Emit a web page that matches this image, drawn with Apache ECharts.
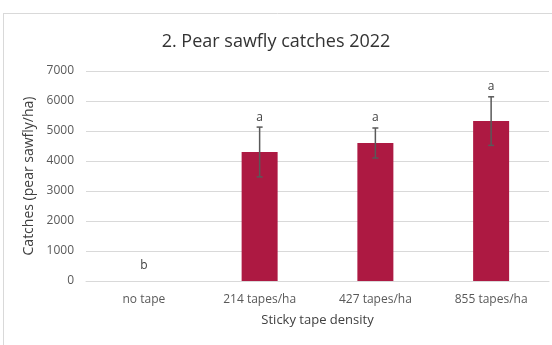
<!DOCTYPE html>
<html lang="en">
	<head>
		<meta charset="utf-8">
		<title>Pear sawfly catches 2022</title>
		<style>
			html, body { margin: 0; padding: 0; background: #fff; }
			#chart { width: 552px; height: 345px; }
		</style>
	</head>
	<body>
		<div id="chart"></div>
		<script src="https://cdn.jsdelivr.net/npm/echarts@6/dist/echarts.min.js"></script>
		<script type="text/javascript">
			var categories = ['no tape', '214 tapes/ha', '427 tapes/ha', '855 tapes/ha'];
			var catches = [0, 4300, 4600, 5330];
			var errors = [0, 830, 500, 810];
			var letters = ['b', 'a', 'a', 'a'];
			var letterY = [500, null, null, null]; // where the letter sits when there is no error bar
			var yTicks = [0, 1000, 2000, 3000, 4000, 5000, 6000, 7000];

			var myChart = echarts.init(document.getElementById('chart'));

			var errData = [];
			for (var i = 0; i < categories.length; i++) {
				errData.push([i, catches[i] - errors[i], catches[i] + errors[i], letterY[i]]);
			}

			var option = {
				backgroundColor: '#fff',
				animation: false,
				textStyle: { fontFamily: 'Open Sans, Noto Sans, sans-serif' },
				title: {
					text: '2. Pear sawfly catches 2022',
					left: 'center',
					top: 28,
					textStyle: { fontSize: 18, fontWeight: 'normal', color: '#333' }
				},
				graphic: [
					{ type: 'line', shape: { x1: 3.5, y1: 13, x2: 3.5, y2: 345 }, style: { stroke: '#d9d9d9', lineWidth: 1 } },
					{ type: 'line', shape: { x1: 3, y1: 13.5, x2: 552, y2: 13.5 }, style: { stroke: '#d9d9d9', lineWidth: 1 } }
				],
				grid: { left: 86, right: 3, top: 71, bottom: 64 },
				xAxis: {
					type: 'category',
					data: categories,
					name: 'Sticky tape density',
					nameLocation: 'middle',
					nameGap: 33,
					nameTextStyle: { fontSize: 13, color: '#404040' },
					axisLine: { lineStyle: { color: '#d9d9d9' } },
					axisTick: { show: false },
					axisLabel: { fontSize: 12, color: '#595959', margin: 13 }
				},
				yAxis: {
					type: 'value',
					min: yTicks[0],
					max: yTicks[yTicks.length - 1],
					interval: 1000,
					name: 'Catches (pear sawfly/ha)',
					nameLocation: 'middle',
					nameGap: 47,
					nameTextStyle: { fontSize: 14, color: '#404040' },
					axisLine: { show: false },
					axisTick: { show: false },
					axisLabel: {
						fontSize: 12, color: '#595959', margin: 12,
						formatter: function (v) { return String(v); }
					},
					splitLine: { lineStyle: { color: '#d9d9d9' } }
				},
				series: [
					{
						type: 'bar',
						data: catches,
						barWidth: 36,
						itemStyle: { color: '#ad1942' }
					},
					{
						type: 'custom',
						data: errData,
						z: 10,
						renderItem: function (params, api) {
							var idx = api.value(0);
							var lo = api.coord([idx, api.value(1)]);
							var hi = api.coord([idx, api.value(2)]);
							var cap = 3;
							var children = [];
							if (api.value(2) > api.value(1)) {
								var st = { stroke: '#595959', lineWidth: 1.5 };
								children.push({ type: 'line', shape: { x1: hi[0], y1: hi[1], x2: lo[0], y2: lo[1] }, style: st });
								children.push({ type: 'line', shape: { x1: hi[0] - cap, y1: hi[1], x2: hi[0] + cap, y2: hi[1] }, style: st });
								children.push({ type: 'line', shape: { x1: lo[0] - cap, y1: lo[1], x2: lo[0] + cap, y2: lo[1] }, style: st });
							}
							var ly = isNaN(api.value(3)) || api.value(3) === null ? hi[1] - 4 : api.coord([idx, api.value(3)])[1] + 6;
							children.push({
								type: 'text',
								style: {
									text: letters[params.dataIndex],
									x: hi[0], y: ly,
									align: 'center', verticalAlign: 'bottom',
									fill: '#404040', fontSize: 12,
									fontFamily: 'Open Sans, Noto Sans, sans-serif'
								}
							});
							return { type: 'group', children: children };
						}
					}
				]
			};
			myChart.setOption(option);
		</script>
	</body>
</html>
